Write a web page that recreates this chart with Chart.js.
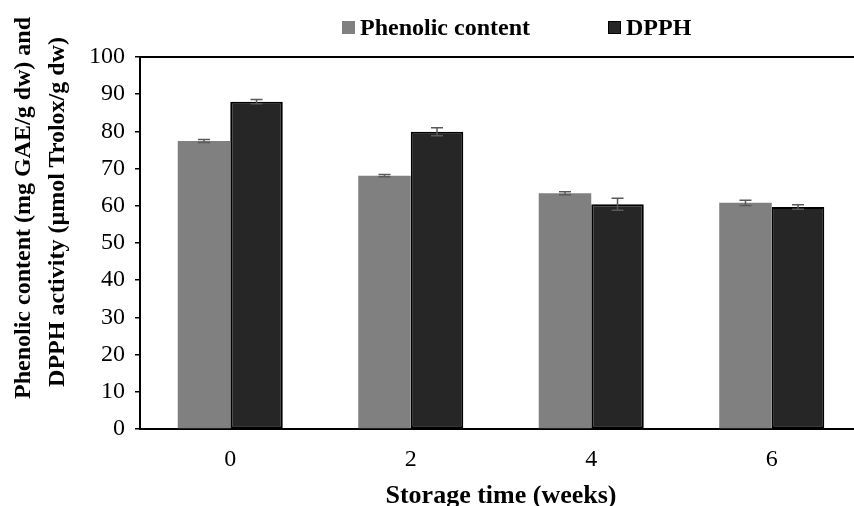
<!DOCTYPE html>
<html>
<head>
<meta charset="utf-8">
<script src="https://cdn.jsdelivr.net/npm/chart.js@4"></script>
<style>
  html, body { margin: 0; padding: 0; background: #fff; overflow: hidden; }
  #wrap { position: relative; width: 854px; height: 506px; overflow: hidden; }
  #chart { position: absolute; left: 0; top: 0; }
  .ytitle {
    position: absolute; white-space: nowrap; line-height: 1;
    font: bold 24px 'Liberation Serif', 'Times New Roman', serif; color: #000;
    transform: translate(-50%, -50%) rotate(-90deg);
  }
  .legend {
    position: absolute; top: 14px; white-space: nowrap;
    font: bold 24px 'Liberation Serif', 'Times New Roman', serif; color: #000;
    display: flex; align-items: center;
  }
  .legend i { display: inline-block; width: 13px; height: 13px; margin-right: 5px; box-sizing: border-box; }
</style>
</head>
<body>
<div id="wrap">
  <canvas id="chart" width="862" height="512"></canvas>
  <div class="ytitle" style="left:22px; top:208px;">Phenolic content (mg GAE/g dw) and</div>
  <div class="ytitle" style="left:56px; top:212px;">DPPH activity (µmol Trolox/g dw)</div>
  <div class="legend" style="left:342px;"><i style="background:#808080"></i>Phenolic content</div>
  <div class="legend" style="left:608px;"><i style="background:#262626;border:1px solid #000"></i>DPPH</div>
</div>
<script>
const weeks = ['0', '2', '4', '6'];
const phenolic = [77.4, 68.1, 63.4, 60.8];
const phenolicErr = [0.4, 0.3, 0.4, 0.7];
const dpph = [88.0, 79.9, 60.4, 59.7];
const dpphErr = [0.6, 1.1, 1.6, 0.6];
const yTicks = [0, 10, 20, 30, 40, 50, 60, 70, 80, 90, 100];

const errors = [phenolicErr, dpphErr];
const serif = "'Liberation Serif', 'Times New Roman', serif";

// error bars + top frame line
const extras = {
  id: 'extras',
  afterDatasetsDraw(chart) {
    const ctx = chart.ctx;
    const y = chart.scales.y;
    ctx.save();
    ctx.strokeStyle = '#595959';
    ctx.lineWidth = 1.5;
    chart.data.datasets.forEach((ds, i) => {
      const meta = chart.getDatasetMeta(i);
      meta.data.forEach((bar, j) => {
        const v = ds.data[j];
        const e = errors[i][j];
        const top = y.getPixelForValue(v + e);
        const bot = y.getPixelForValue(v - e);
        ctx.beginPath();
        ctx.moveTo(bar.x, top); ctx.lineTo(bar.x, bot);
        ctx.moveTo(bar.x - 6, top); ctx.lineTo(bar.x + 6, top);
        ctx.moveTo(bar.x - 6, bot); ctx.lineTo(bar.x + 6, bot);
        ctx.stroke();
      });
    });
    const a = chart.chartArea;
    ctx.strokeStyle = '#000';
    ctx.lineWidth = 2;
    ctx.beginPath();
    ctx.moveTo(a.left, a.top); ctx.lineTo(a.right, a.top);
    ctx.stroke();
    ctx.restore();
  }
};

new Chart(document.getElementById('chart').getContext('2d'), {
  type: 'bar',
  data: {
    labels: weeks,
    datasets: [
      {
        label: 'Phenolic content',
        data: phenolic,
        backgroundColor: '#808080',
        borderWidth: 0,
        categoryPercentage: 0.582,
        barPercentage: 1.0,
      },
      {
        label: 'DPPH',
        data: dpph,
        backgroundColor: '#262626',
        borderColor: '#000',
        borderWidth: 2,
        borderSkipped: false,
        categoryPercentage: 0.582,
        barPercentage: 1.0,
      },
    ],
  },
  options: {
    responsive: false,
    animation: false,
    layout: { padding: { top: 57, left: 0, right: 0, bottom: 0 } },
    plugins: {
      legend: { display: false },
      tooltip: { enabled: false },
    },
    scales: {
      x: {
        grid: { display: false },
        border: { display: true, color: '#000', width: 2 },
        ticks: { color: '#000', padding: 8, font: { family: serif, size: 24 } },
        title: {
          display: true,
          text: 'Storage time (weeks)',
          color: '#000',
          padding: { top: 0, bottom: 0 },
          font: { family: serif, size: 26, weight: 'bold' },
        },
        afterFit: (s) => { s.height = 83; },
      },
      y: {
        min: 0,
        max: 100,
        afterBuildTicks: (s) => { s.ticks = yTicks.map((v) => ({ value: v })); },
        grid: { drawOnChartArea: false, drawTicks: true, tickLength: 5, color: '#000', lineWidth: 1.5 },
        border: { display: true, color: '#000', width: 2 },
        ticks: { color: '#000', padding: 10, font: { family: serif, size: 24 } },
        afterFit: (s) => { s.width = 140; },
      },
    },
  },
  plugins: [extras],
});
</script>
</body>
</html>
